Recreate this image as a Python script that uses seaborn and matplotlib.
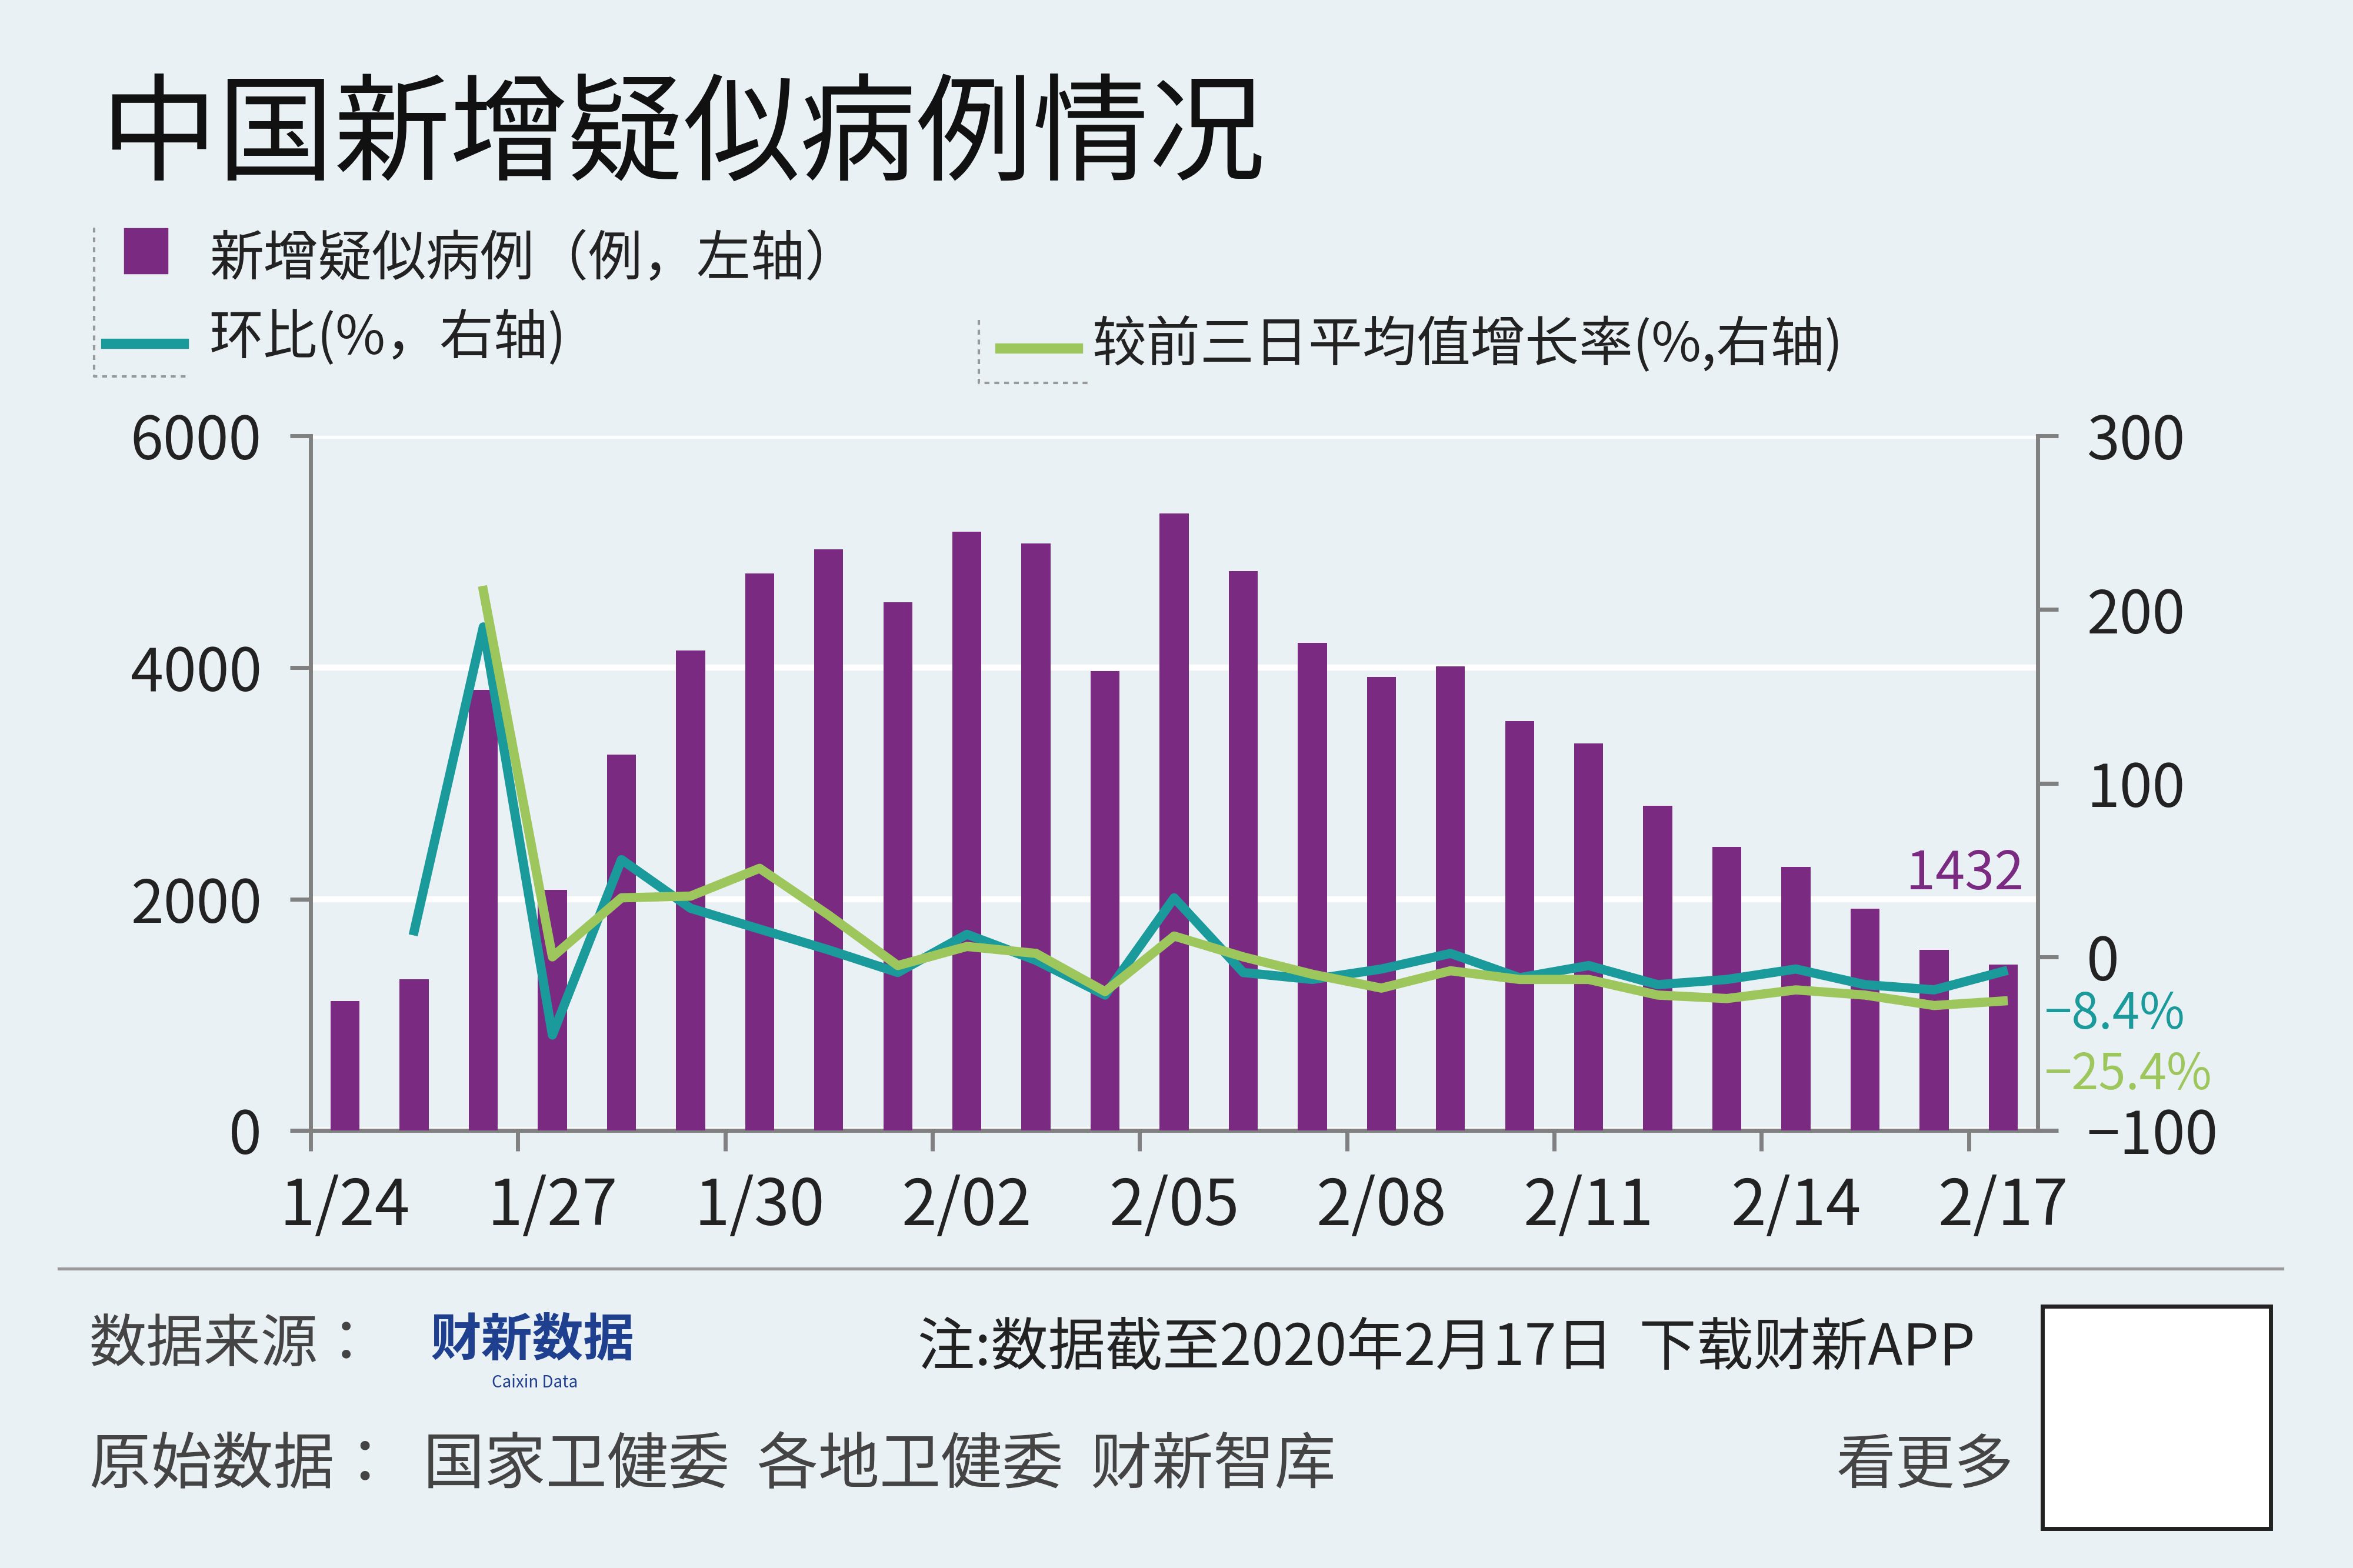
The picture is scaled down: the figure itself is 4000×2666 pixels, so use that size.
import matplotlib
matplotlib.use("Agg")
import matplotlib.pyplot as plt
import seaborn as sns
import numpy as np
import pandas as pd
from matplotlib.patches import Rectangle
from matplotlib.lines import Line2D
from matplotlib import font_manager

cjk = [f.name for f in font_manager.fontManager.ttflist if "CJK" in f.name]
pref = [n for n in ["Noto Sans CJK SC", "Noto Sans CJK JP", "Noto Sans CJK TC", "Noto Sans CJK KR"] if n in cjk] + sorted(set(cjk))
plt.rcParams["font.family"] = "sans-serif"
plt.rcParams["font.sans-serif"] = (pref[:1] if pref else []) + ["DejaVu Sans"]

dates = ["1/24","1/25","1/26","1/27","1/28","1/29","1/30","1/31","2/01","2/02","2/03","2/04","2/05",
         "2/06","2/07","2/08","2/09","2/10","2/11","2/12","2/13","2/14","2/15","2/16","2/17"]
suspected = [1118,1309,3806,2077,3248,4148,4812,5019,4562,5173,5072,3971,5328,
             4833,4214,3916,4008,3536,3342,2807,2450,2277,1918,1563,1432]
hb = [None,15,190,-45,56,28,16,4,-9,13,-2,-22,34,-9,-13,-7,2,-12,-5,-16,-13,-7,-16,-19,-8.4]
gr3 = [None,None,211,0,34,35,51,24,-5,6,2,-20,12,0,-10,-18,-8,-13,-13,-22,-24,-19,-22,-28,-25.4]
tick_labels = ["1/24","1/27","1/30","2/02","2/05","2/08","2/11","2/14","2/17"]

BG = "#EAF1F5"; PURPLE = "#7B2A82"; TEAL = "#1A9A9A"; GREEN = "#9DC75D"; GRAY = "#808080"

fig = plt.figure(figsize=(16, 10.664), dpi=250, facecolor=BG)
ax = fig.add_axes([0.132, 0.279, 0.734, 0.443], facecolor=BG)
df = pd.DataFrame({"i": np.arange(len(dates)), "v": suspected})
sns.barplot(data=df, x="i", y="v", native_scale=True, color=PURPLE, width=0.42,
            saturation=1, ax=ax, zorder=3)
ax.set_xlim(-0.5, 24.5); ax.set_ylim(0, 6000)
ax.set_yticks([0, 2000, 4000, 6000])
ax.set_yticklabels(["0", "2000", "4000", "6000"], fontsize=29, color="#222222")
ax.grid(axis="y", color="white", lw=3, zorder=0)
ax.set_xticks(np.arange(0, 25, 3) - 0.5)
ax.set_xticklabels([])
ax.tick_params(axis="x", length=10, width=2, color=GRAY)
ax.tick_params(axis="y", length=10, width=2, color=GRAY, pad=14)
for i, lab in zip(range(0, 25, 3), tick_labels):
    ax.text(i, -380, lab, ha="center", va="top", fontsize=31, color="#222222")
ax.set_xlabel(""); ax.set_ylabel("")
for s in ["top", "right"]:
    ax.spines[s].set_visible(False)
ax.spines["left"].set_color(GRAY); ax.spines["left"].set_linewidth(2)
ax.spines["bottom"].set_color(GRAY); ax.spines["bottom"].set_linewidth(2)

ax2 = ax.twinx()
ax2.set_ylim(-100, 300)
ld = pd.DataFrame({"i": np.arange(len(dates)), "hb": hb, "gr": gr3}).astype(float)
sns.lineplot(data=ld, x="i", y="hb", color=TEAL, lw=4.5, ax=ax2, zorder=4)
sns.lineplot(data=ld, x="i", y="gr", color=GREEN, lw=4.5, ax=ax2, zorder=5)
ax2.set_xlim(-0.5, 24.5)
ax2.set_yticks([-100, 0, 100, 200, 300])
ax2.set_yticklabels(["\u2212100", "0", "100", "200", "300"], fontsize=29, color="#222222")
ax2.tick_params(axis="y", length=10, width=2, color=GRAY, pad=14)
ax2.set_xlabel(""); ax2.set_ylabel("")
for s in ["top", "left", "bottom"]:
    ax2.spines[s].set_visible(False)
ax2.spines["right"].set_color(GRAY); ax2.spines["right"].set_linewidth(2)

ax.text(24.3, suspected[-1] + 650, "1432", ha="right", fontsize=26, color=PURPLE)
ax2.text(24.6, -33, "\u22128.4%", ha="left", va="center", fontsize=24, color=TEAL, clip_on=False)
ax2.text(24.6, -68, "\u221225.4%", ha="left", va="center", fontsize=24, color=GREEN, clip_on=False)

# title
fig.text(0.043, 0.912, "中国新增疑似病例情况", fontsize=57, color="#111111", va="center")
# legend
fig.patches.append(Rectangle((0.053, 0.826), 0.018, 0.028, transform=fig.transFigure, color=PURPLE))
fig.text(0.089, 0.834, "新增疑似病例（例，左轴）", fontsize=26.5, va="center", color="#222222")
fig.lines.append(Line2D([0.045, 0.078], [0.781, 0.781], transform=fig.transFigure, color=TEAL, lw=5))
fig.text(0.089, 0.784, "环比(%，右轴)", fontsize=26.5, va="center", color="#222222")
fig.lines.append(Line2D([0.425, 0.458], [0.778, 0.778], transform=fig.transFigure, color=GREEN, lw=5))
fig.text(0.464, 0.780, "较前三日平均值增长率(%,右轴)", fontsize=26.5, va="center", color="#222222")
for (x0, x1, y0, y1) in [(0.040, 0.080, 0.760, 0.855), (0.416, 0.463, 0.756, 0.796)]:
    fig.lines.append(Line2D([x0, x0, x1], [y1, y0, y0], transform=fig.transFigure,
                            color="#999999", lw=1.2, ls=(0, (2, 2))))

# footer
fig.lines.append(Line2D([0.025, 0.97], [0.191, 0.191], transform=fig.transFigure, color="#999999", lw=1.5))
fig.text(0.038, 0.142, "数据来源：", fontsize=28, va="center", color="#444444")
fig.text(0.183, 0.145, "财新数据", fontsize=25, va="center", color="#1F3F8F", fontweight="bold")
fig.text(0.209, 0.118, "Caixin Data", fontsize=8, va="center", color="#1F3F8F")
fig.text(0.39, 0.140, "注:数据截至2020年2月17日  下载财新APP", fontsize=28, va="center", color="#222222")
fig.text(0.038, 0.065, "原始数据：  国家卫健委  各地卫健委  财新智库", fontsize=30, va="center", color="#444444")
fig.text(0.856, 0.065, "看更多", fontsize=29, va="center", ha="right", color="#444444")
fig.patches.append(Rectangle((0.868, 0.025), 0.097, 0.142, transform=fig.transFigure,
                             facecolor="white", edgecolor="#222222", lw=2))

fig.savefig("out.png", dpi=250, facecolor=BG)
